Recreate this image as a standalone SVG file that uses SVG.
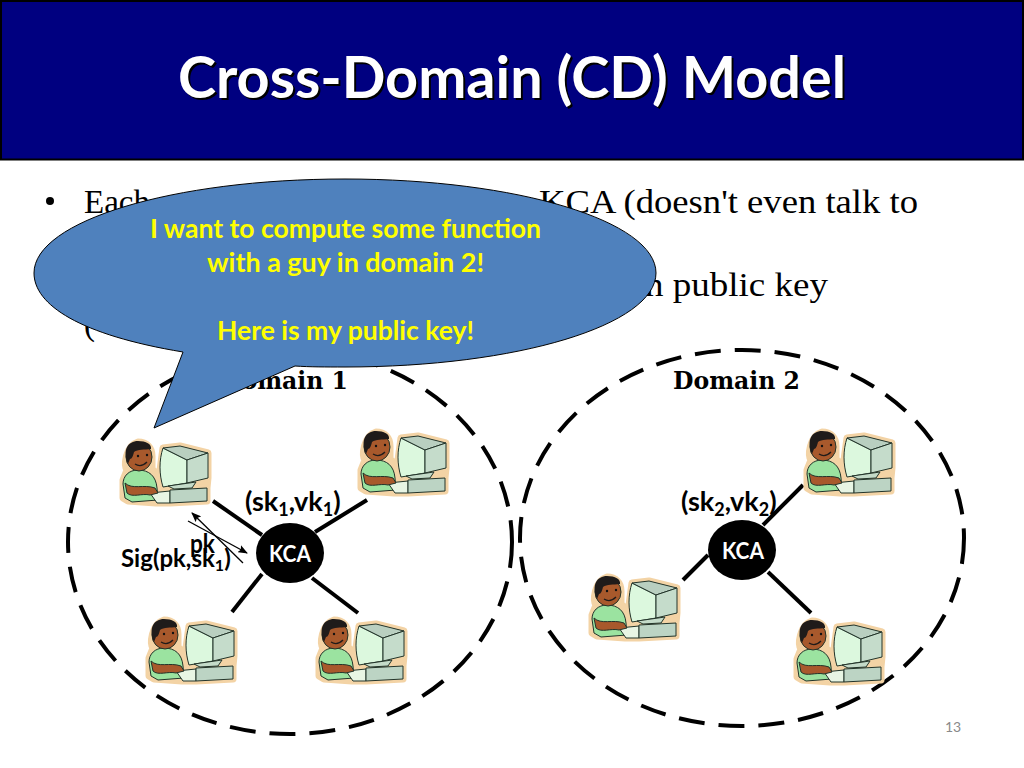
<svg xmlns="http://www.w3.org/2000/svg" width="1024" height="768" viewBox="0 0 1024 768">
<style>
.title{font:bold 57px Lato,"Open Sans",sans-serif}
.body{font:33px "Liberation Serif","DejaVu Serif",serif;fill:#000}
.dom{font:bold 24px "DejaVu Serif","Liberation Serif",serif;fill:#000}
.lab{font:bold 27px Lato,"Open Sans",sans-serif;fill:#000}
.sig{font:bold 24px Lato,"Open Sans",sans-serif;fill:#000}
.kca{font:bold 23px Lato,"Open Sans",sans-serif;fill:#fff;text-anchor:middle}
.say{font:bold 26px Lato,"Open Sans",sans-serif;fill:#ff0}
.ring{fill:none;stroke:#000;stroke-width:4;stroke-dasharray:26 14}
.link{stroke:#000;stroke-width:4;fill:none}
.thin{stroke:#000;stroke-width:1.3;fill:none}
.knode{fill:#000}
.o{stroke:#22342a;stroke-width:1}
.halo{fill:#f3d3a5;stroke:#f3d3a5;stroke-width:7;stroke-linejoin:round}
</style>
<defs>
<marker id="ah" markerWidth="10" markerHeight="8" refX="9" refY="4" orient="auto" markerUnits="userSpaceOnUse"><path d="M0 0L10 4L0 8L2 4Z" fill="#000"/></marker>
<g id="user">
<path class="halo" d="M18 4C27 4 32 10 32 18L32 31L37 36L40 32L43 10L60 8L88 15L88 40L87 50L87 63L50 65L36 65L8 63L3 60L3 42L7 32C4 28 5 8 18 4Z"/>
<path d="M3 46C3 38 9 32 18 32C29 32 36 38 37 50L38 62L12 64L5 60Z" fill="#9be3a0" class="o"/>
<path d="M30 55L50 53L50 65L37 65Z" fill="#e8f5e4" class="o"/>
<path d="M5 45C12 52 24 46 35 50L38 55L30 57C22 55 12 60 7 55Z" fill="#a8592c" class="o"/>
<ellipse cx="19" cy="19" rx="13" ry="14" fill="#a8592c" class="o"/>
<path d="M8 26C2 12 8 3 18 3C26 3 32 6 31 11C24 12 18 11 14 14C13 18 12 21 10 21Z" fill="#1f1b1a"/>
<path d="M15 26Q21 30 27 24" fill="none" stroke="#1f1b1a" stroke-width="1.3"/>
<circle cx="18" cy="18" r="1.2" fill="#111"/><circle cx="27" cy="17" r="1.2" fill="#111"/>
<path d="M43 10L67 22L67 45L43 49C39 36 39 22 43 10Z" fill="#dcf8de" class="o"/>
<path d="M43 10L60 8L88 15L67 22Z" fill="#b9cfc0" class="o"/>
<path d="M67 22L88 15L88 40L67 45Z" fill="#c5dccb" class="o"/>
<path d="M48 48L76 44L72 50L54 51Z" fill="#c4dbc9" class="o"/>
<path d="M50 52L87 50L87 63L50 65Z" fill="#bcd4c4" class="o"/>
</g>
</defs>
<rect width="1024" height="768" fill="#fff"/>
<g id="header">
<rect x="1" y="1" width="1022" height="158.500" fill="#000080" stroke="#000" stroke-width="2"/>
<text class="title" x="180" y="100" fill="#000" textLength="668" lengthAdjust="spacingAndGlyphs">Cross-Domain (CD) Model</text>
<text class="title" x="178" y="98" fill="#fff" textLength="668" lengthAdjust="spacingAndGlyphs">Cross-Domain (CD) Model</text>
</g>
<g id="bullets">
<circle cx="50" cy="201" r="4" fill="#000"/>
<text class="body" x="84" y="213">Each</text>
<text class="body" x="539" y="213" textLength="379" lengthAdjust="spacingAndGlyphs">KCA (doesn't even talk to</text>
<text class="body" x="645" y="296" textLength="183" lengthAdjust="spacingAndGlyphs">n public key</text>
<text class="body" x="84" y="335">(</text>
</g>
<g id="domain-1">
<ellipse class="ring" cx="290" cy="542" rx="222" ry="192"/>
<text class="dom" x="221" y="389" textLength="127" lengthAdjust="spacingAndGlyphs">Domain 1</text>
</g>
<g id="domain-2">
<ellipse class="ring" cx="742" cy="538" rx="222" ry="188"/>
<text class="dom" x="673" y="389" textLength="127" lengthAdjust="spacingAndGlyphs">Domain 2</text>
</g>
<g id="connectors">
<path class="link" d="M213 501L262 535"/>
<path class="link" d="M367 500L315 532"/>
<path class="link" d="M262 574L232 612"/>
<path class="link" d="M312 578L358 613"/>
<path class="link" d="M803 485L763 525"/>
<path class="link" d="M683 580L708 555"/>
<path class="link" d="M768 572L811 613"/>
<path class="thin" d="M188 521L247 553" marker-end="url(#ah)"/>
<path class="thin" d="M243 563L192 513" marker-end="url(#ah)"/>
</g>
<g id="user-1"><use href="#user" x="120" y="438"/></g>
<g id="user-2"><use href="#user" x="358" y="428"/></g>
<g id="user-3"><use href="#user" x="146" y="616"/></g>
<g id="user-4"><use href="#user" x="316" y="616"/></g>
<g id="user-5"><use href="#user" x="804" y="428"/></g>
<g id="user-6"><use href="#user" x="589" y="573"/></g>
<g id="user-7"><use href="#user" x="794" y="617"/></g>
<g id="kca-1">
<ellipse class="knode" cx="290" cy="553" rx="34" ry="30"/>
<text class="kca" x="290" y="562" textLength="42" lengthAdjust="spacingAndGlyphs">KCA</text>
</g>
<g id="kca-2">
<ellipse class="knode" cx="742" cy="550" rx="34" ry="30"/>
<text class="kca" x="743" y="559" textLength="42" lengthAdjust="spacingAndGlyphs">KCA</text>
</g>
<g id="labels">
<text class="lab" x="245" y="511">(sk<tspan font-size="18" dy="5">1</tspan><tspan dy="-5">,vk</tspan><tspan font-size="18" dy="5">1</tspan><tspan dy="-5">)</tspan></text>
<text class="lab" x="681" y="511">(sk<tspan font-size="18" dy="5">2</tspan><tspan dy="-5">,vk</tspan><tspan font-size="18" dy="5">2</tspan><tspan dy="-5">)</tspan></text>
<text class="lab" x="190" y="553" textLength="25" lengthAdjust="spacingAndGlyphs">pk</text>
<text class="sig" x="121" y="567">Sig(pk,sk<tspan font-size="16" dy="4">1</tspan><tspan dy="-4">)</tspan></text>
</g>
<g id="callout">
<path d="M183 352C80 335 34 305 34 273C34 221 173 179 345 179C517 179 656 221 656 273C656 325 517 367 345 367C325 367 310 367 295 366L154 428Z" fill="#4f81bd" stroke="#000" stroke-width="1"/>
<text class="say" x="150" y="238" textLength="391" lengthAdjust="spacingAndGlyphs">I want to compute some function</text>
<text class="say" x="207" y="272" textLength="277" lengthAdjust="spacingAndGlyphs">with a guy in domain 2!</text>
<text class="say" x="217" y="340" textLength="257" lengthAdjust="spacingAndGlyphs">Here is my public key!</text>
</g>
<g id="page"><text x="953" y="732" text-anchor="middle" style="font:14px Lato,'Open Sans',sans-serif;fill:#8a8a8a">13</text></g>
</svg>
